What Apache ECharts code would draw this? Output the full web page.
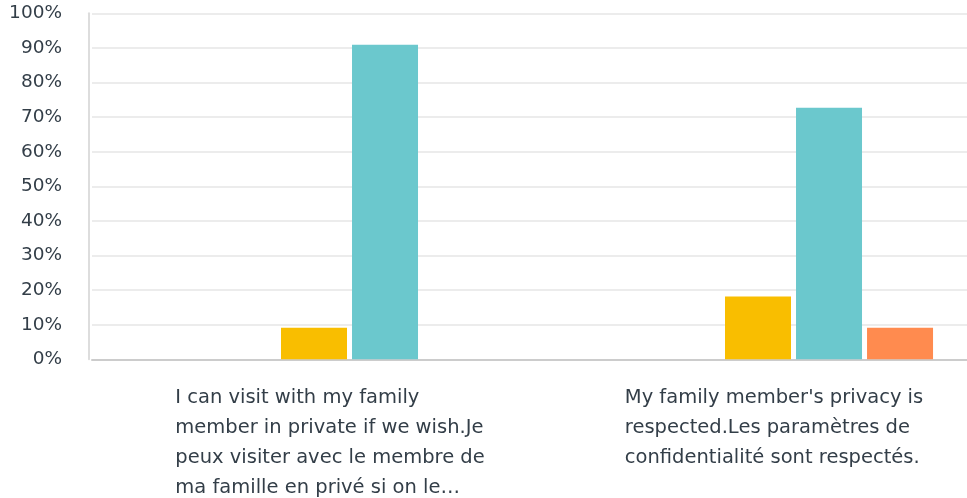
<!DOCTYPE html>
<html>
<head>
<meta charset="utf-8">
<script src="https://cdn.jsdelivr.net/npm/echarts@6/dist/echarts.min.js"></script>
<style>html,body{margin:0;padding:0;background:#fff}#c{width:967px;height:498px}</style>
</head>
<body>
<div id="c"></div>
<script>
var categories = [
  "I can visit with my family\nmember in private if we wish.Je\npeux visiter avec le membre de\nma famille en privé si on le…",
  "My family member's privacy is\nrespected.Les paramètres de\nconfidentialité sont respectés."
];
var seriesNames = ["Series 1", "Series 2", "Series 3", "Series 4", "Series 5"];
var series1 = [0, 0];
var series2 = [0, 0];
var series3 = [9.09, 18.18];
var series4 = [90.91, 72.73];
var series5 = [0, 9.09];
var seriesColors = ["#00bf6f", "#507cb6", "#f9be00", "#6bc8cd", "#ff8b4f"];
var yTicks = [0, 10, 20, 30, 40, 50, 60, 70, 80, 90, 100];

var allData = [series1, series2, series3, series4, series5];
var chart = echarts.init(document.getElementById('c'));
var FONT = "'DejaVu Sans', sans-serif";
chart.setOption({
  animation: false,
  grid: { left: 92, right: -13, top: 13.3, bottom: 138.7, outerBoundsMode: 'none', containLabel: false },
  xAxis: {
    type: 'category',
    data: categories,
    axisLine: { lineStyle: { color: '#cccccc', width: 2 } },
    axisTick: { show: false },
    axisLabel: {
      interval: 0,
      margin: 23.2,
      padding: [0, 0, 0, 32],
      formatter: function (v) {
        return v.split('\n').map(function (l) { return '{l|' + l + '}'; }).join('\n');
      },
      rich: {
        l: { align: 'left', fontSize: 19.5, lineHeight: 30, color: '#333e48', fontFamily: FONT }
      }
    }
  },
  yAxis: {
    type: 'value',
    min: 0, max: 100, interval: 10,
    offset: 3,
    axisLine: { show: true, lineStyle: { color: '#dddddd', width: 2 } },
    axisTick: { show: false },
    splitLine: { lineStyle: { color: '#ececec', width: 2 } },
    axisLabel: {
      margin: 27,
      fontSize: 18.5,
      color: '#333e48',
      fontFamily: FONT,
      formatter: function (v) { return yTicks.indexOf(v) >= 0 ? v + '%' : ''; }
    }
  },
  series: allData.map(function (d, i) {
    return {
      name: seriesNames[i],
      type: 'bar',
      data: d,
      barWidth: 66,
      barGap: '7.6%',
      itemStyle: { color: seriesColors[i] }
    };
  })
});
</script>
</body>
</html>
